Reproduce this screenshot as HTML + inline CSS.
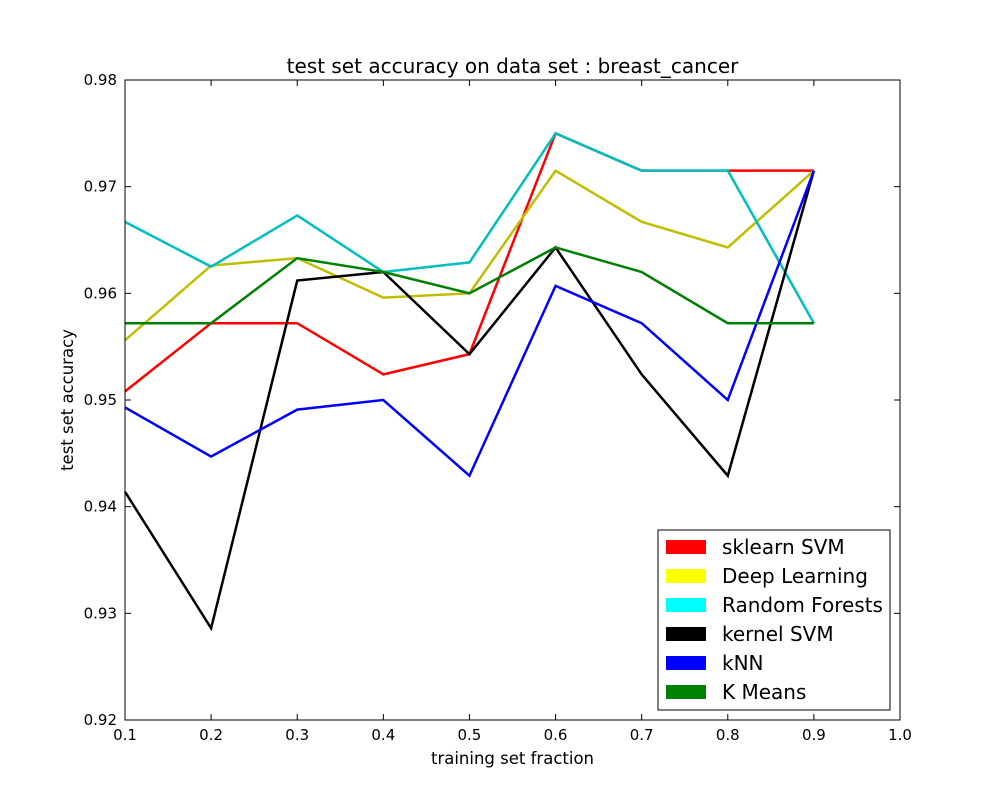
<!DOCTYPE html>
<html><head><meta charset="utf-8"><style>
body{margin:0;background:#fff;}
text{font-family:"DejaVu Sans","Liberation Sans",sans-serif;}
</style></head><body>
<svg id="chart" width="1000" height="800" xmlns="http://www.w3.org/2000/svg">
<rect x="0" y="0" width="1000" height="800" fill="#fff"/>
<g id="plot"></g>
</svg>
<script>
const fractions=[0.1,0.2,0.3,0.4,0.5,0.6,0.7,0.8,0.9];
const sklearnSVM=[0.9508,0.9572,0.9572,0.9524,0.9543,0.9750,0.9715,0.9715,0.9715];
const deepLearning=[0.9556,0.9626,0.9633,0.9596,0.9600,0.9715,0.9667,0.9643,0.9715];
const randomForests=[0.9667,0.9625,0.9673,0.9620,0.9629,0.9750,0.9715,0.9715,0.9572];
const kernelSVM=[0.9414,0.9286,0.9612,0.9620,0.9543,0.9643,0.9524,0.9429,0.9715];
const kNN=[0.9493,0.9447,0.9491,0.9500,0.9429,0.9607,0.9572,0.9500,0.9715];
const kMeans=[0.9572,0.9572,0.9633,0.9620,0.9600,0.9643,0.9620,0.9572,0.9572];
const seriesNames=["sklearn SVM","Deep Learning","Random Forests","kernel SVM","kNN","K Means"];
const xTicks=[0.1,0.2,0.3,0.4,0.5,0.6,0.7,0.8,0.9,1.0];
const yTicks=[0.92,0.93,0.94,0.95,0.96,0.97,0.98];

const NS="http://www.w3.org/2000/svg";
const L=125,R=900,T=80,B=720;
const xS=v=>L+(v-0.1)/(1.0-0.1)*(R-L);
const yS=v=>B-(v-0.92)/(0.98-0.92)*(B-T);
const g=document.getElementById('plot');
function mk(tag,attrs,parent){const e=document.createElementNS(NS,tag);for(const k in attrs)e.setAttribute(k,attrs[k]);(parent||g).appendChild(e);return e;}

const series=[sklearnSVM,deepLearning,randomForests,kernelSVM,kNN,kMeans];
const lineColors=["#ff0000","#bfbf00","#00bfbf","#000000","#0000ff","#008000"];
const patchColors=["#ff0000","#ffff00","#00ffff","#000000","#0000ff","#008000"];
const slugs=["sklearn-svm","deep-learning","random-forests","kernel-svm","knn","k-means"];

series.forEach((s,i)=>{
  const p=mk('polyline',{points:s.map((v,j)=>xS(fractions[j])+','+yS(v)).join(' '),fill:'none',stroke:lineColors[i],'stroke-width':2.5,'stroke-linejoin':'miter'});
  
  
});

const frame=mk('rect',{x:L,y:T,width:R-L,height:B-T,fill:'none',stroke:'#000','stroke-width':1});



xTicks.forEach(v=>{
  const x=xS(v);
  mk('line',{x1:x,y1:B,x2:x,y2:B-6,stroke:'#000'});
  mk('line',{x1:x,y1:T,x2:x,y2:T+6,stroke:'#000'});
  const t=mk('text',{x:x,y:B+20,'text-anchor':'middle','font-size':15});
  t.textContent=v.toFixed(1);
  
  
});
yTicks.forEach(v=>{
  const y=yS(v);
  mk('line',{x1:L,y1:y,x2:L+6,y2:y,stroke:'#000'});
  mk('line',{x1:R,y1:y,x2:R-6,y2:y,stroke:'#000'});
  const t=mk('text',{x:L-8,y:y+5,'text-anchor':'end','font-size':15});
  t.textContent=v.toFixed(2);
  
  
});

const title=mk('text',{x:(L+R)/2,y:73,'text-anchor':'middle','font-size':20});
title.textContent='test set accuracy on data set : breast_cancer';


const xl=mk('text',{x:(L+R)/2,y:764,'text-anchor':'middle','font-size':16.5});
xl.textContent='training set fraction';


const yl=mk('text',{x:0,y:0,'text-anchor':'middle','font-size':16.5,transform:'translate(73,400) rotate(-90)'});
yl.textContent='test set accuracy';



const lg=mk('g',{});


mk('rect',{x:658,y:530,width:232,height:180,fill:'#fff',stroke:'#000','stroke-width':1},lg);
seriesNames.forEach((n,i)=>{
  const y=547+i*29;
  const e=mk('g',{},lg);
  
  
  mk('rect',{x:666,y:y-7,width:40,height:14,fill:patchColors[i]},e);
  const t=mk('text',{x:722,y:y+7,'font-size':20},e);
  t.textContent=n;
});
</script>
</body></html>
